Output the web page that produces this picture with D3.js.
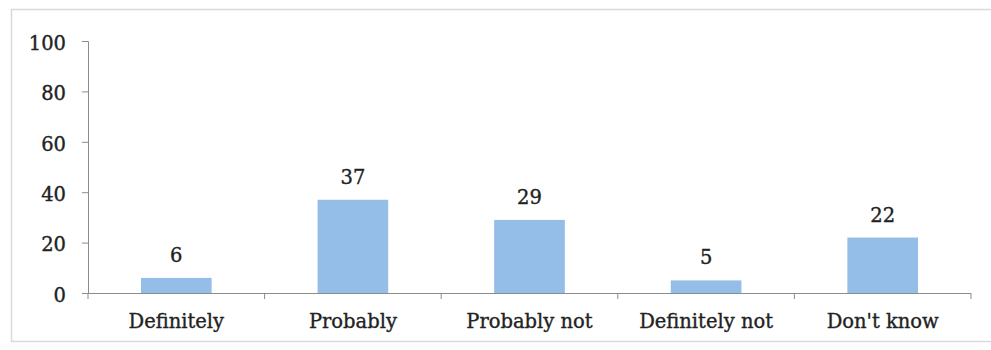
<!DOCTYPE html>
<html><head><meta charset="utf-8">
<script src="https://cdn.jsdelivr.net/npm/d3@7"></script>
<style>body{margin:0;background:#fff}svg{display:block}</style>
</head><body>
<svg id="c" width="991" height="350"></svg>
<script>
const categories = ["Definitely", "Probably", "Probably not", "Definitely not", "Don't know"];
const values = [6, 37, 29, 5, 22];
const yTicks = [0, 20, 40, 60, 80, 100];

const svg = d3.select("#c");
const font = "'DejaVu Serif', serif";
const fs = "19.5px";
const m = {left: 88, right: 20, top: 41, bottom: 57};
const W = 991, H = 350;

svg.append("path").attr("d", `M${W+5},9.5 H11.5 V341.5 H${W+5}`)
  .attr("fill", "none").attr("stroke", "#d9d9d9").attr("stroke-width", 1.5);

const x = d3.scaleBand().domain(categories).range([m.left, W - m.right]).padding(0);
const y = d3.scaleLinear().domain([0, 100]).range([H - m.bottom, m.top]);
const bw = x.bandwidth() * 0.4;

const gy = svg.append("g").attr("transform", `translate(${m.left},0)`)
  .call(d3.axisLeft(y).tickValues(yTicks).tickSize(6).tickPadding(16));
const gx = svg.append("g").attr("transform", `translate(0,${y(0)})`)
  .call(d3.axisBottom(x).tickSize(0).tickPadding(21));
gx.selectAll(".bnd").data(categories.concat(["_end"])).enter().append("line")
  .attr("x1", (d,i) => m.left + i * x.bandwidth()).attr("x2", (d,i) => m.left + i * x.bandwidth())
  .attr("y1", 0).attr("y2", 6).attr("stroke", "#8c8c8c");

function styleText(sel) {
  sel.attr("fill", "#222").attr("stroke", "#222").attr("stroke-width", 0.35)
    .style("font-family", font).style("font-size", fs);
}
[gy, gx].forEach(g => {
  g.selectAll(".domain").attr("stroke", "#8c8c8c");
  g.selectAll(".tick line").attr("stroke", "#8c8c8c");
  styleText(g.selectAll("text"));
});
gy.selectAll("text").attr("dy", "0.42em");
gx.select(".domain").attr("d", `M${m.left},0.5H${W - m.right}`);

svg.selectAll(".bar").data(values).enter().append("rect")
  .attr("x", (d,i) => x(categories[i]) + (x.bandwidth() - bw) / 2)
  .attr("y", d => y(d)).attr("width", bw).attr("height", d => y(0) - y(d))
  .attr("fill", "#94bee7");

svg.selectAll(".lbl").data(values).enter().append("text")
  .attr("x", (d,i) => x(categories[i]) + x.bandwidth() / 2)
  .attr("y", d => y(d) - 16).attr("text-anchor", "middle")
  .call(styleText)
  .text(d => d);
</script>
</body></html>
